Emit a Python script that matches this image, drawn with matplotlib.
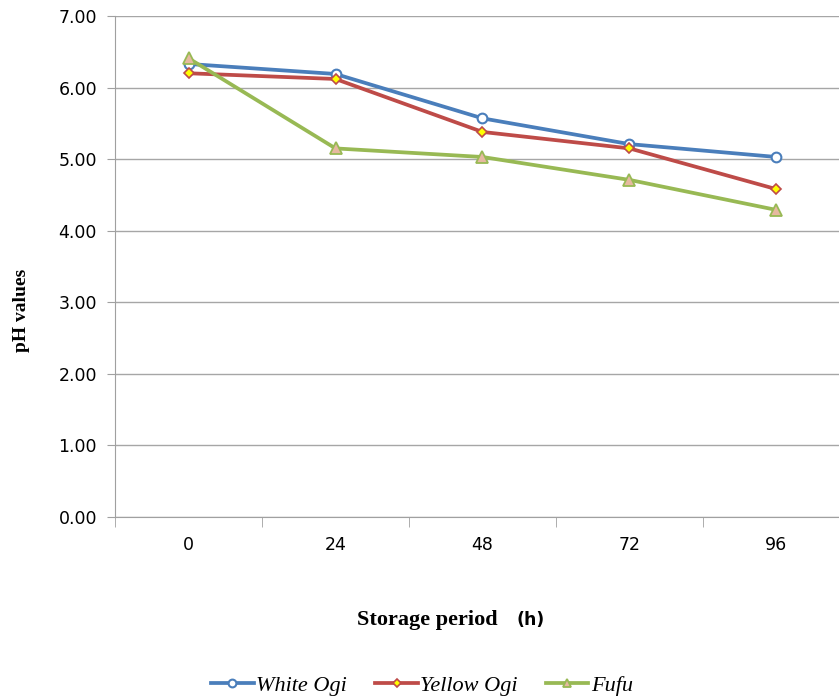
import matplotlib
matplotlib.use("Agg")
import matplotlib.pyplot as plt

categories = ["0", "24", "48", "72", "96"]
white_ogi = [6.33, 6.19, 5.57, 5.21, 5.03]
yellow_ogi = [6.20, 6.12, 5.38, 5.15, 4.58]
fufu = [6.41, 5.15, 5.03, 4.71, 4.29]
yticks = [0, 1, 2, 3, 4, 5, 6, 7]

fig = plt.figure(figsize=(8.39, 6.96), dpi=100)
ax = fig.add_axes([115/839, 1-517/696, 735/839, 501/696])

x = list(range(len(categories)))
blue, red, green = "#4A7EBB", "#BE4B48", "#98B954"
ax.plot(x, white_ogi, color=blue, lw=2.7, marker="o", ms=7, mfc="white", mec=blue, mew=1.5, label="White Ogi", zorder=3)
ax.plot(x, yellow_ogi, color=red, lw=2.7, marker="D", ms=5.5, mfc="#FFFF00", mec=red, mew=1.2, label="Yellow Ogi", zorder=3)
ax.plot(x, fufu, color=green, lw=2.7, marker="^", ms=8, mfc="#E6B9A0", mec=green, mew=1.3, label="Fufu", zorder=4)

ax.set_xlim(-0.5, 4.5)
ax.set_ylim(0, 7)
ax.set_yticks(yticks)
ax.set_yticklabels([f"{v:.2f}" for v in yticks], fontsize=12.5, family="DejaVu Sans")
ax.set_xticks(x)
ax.set_xticklabels(categories, fontsize=12.5, family="DejaVu Sans")
ax.set_xticks([i + 0.5 for i in range(-1, 5)], minor=True)
ax.tick_params(axis="x", which="major", length=0, pad=14)
ax.tick_params(axis="x", which="minor", length=7, color="#A0A0A0", direction="out")
ax.tick_params(axis="y", length=6, color="#A0A0A0", direction="out", pad=7)
ax.yaxis.grid(True, color="#A6A6A6", lw=1)
ax.set_axisbelow(True)
for s in ["top", "right"]:
    ax.spines[s].set_visible(False)
for s in ["left", "bottom"]:
    ax.spines[s].set_color("#A0A0A0")

fig.text(22/839, 1-310/696, "pH values", rotation=90, ha="center", va="center",
         fontsize=14, fontweight="bold", family="Liberation Serif")
fig.text(498/839, 1-620/696, "Storage period", ha="right", va="center",
         fontsize=16, fontweight="bold", family="Liberation Serif")
fig.text(516/839, 1-620/696, "(h)", ha="left", va="center",
         fontsize=12.5, fontweight="bold", family="DejaVu Sans")

handles, labels = ax.get_legend_handles_labels()
fig.legend(handles, labels, loc="center", bbox_to_anchor=(422/839, 1-686/696), ncol=3,
           frameon=False, prop={"family": "Liberation Serif", "style": "italic", "size": 16},
           handlelength=1.9, handletextpad=0.1, columnspacing=1.3, markerscale=0.8)

fig.savefig("out.png", dpi=100)
